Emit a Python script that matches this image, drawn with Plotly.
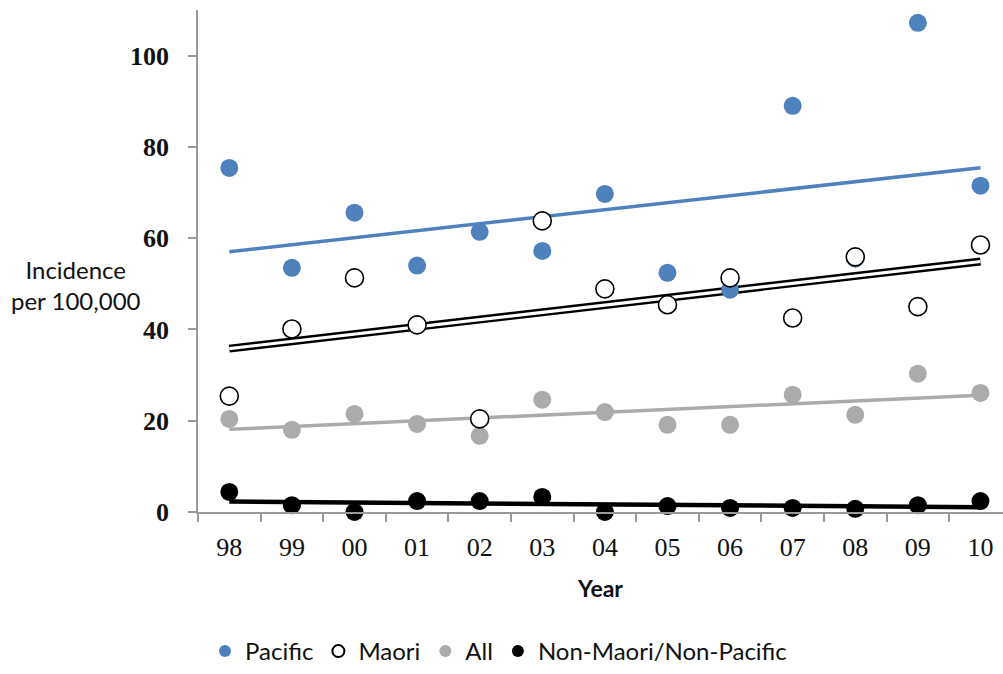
import numpy as np
import plotly.graph_objects as go

# Years (two-digit labels) and incidence per 100,000 for each group
years = ["98", "99", "00", "01", "02", "03", "04", "05", "06", "07", "08", "09", "10"]
pacific = [75.4, 53.5, 65.6, 54.0, 61.4, 57.2, 69.7, 52.4, 48.7, 89.0, 55.5, 107.2, 71.5]
maori = [25.4, 40.1, 51.3, 41.0, 20.4, 63.8, 48.9, 45.4, 51.3, 42.5, 55.9, 45.0, 58.5]
all_groups = [20.4, 18.0, 21.5, 19.3, 16.7, 24.6, 21.9, 19.1, 19.1, 25.7, 21.3, 30.3, 26.1]
non_maori_pacific = [4.4, 1.5, 0.0, 2.4, 2.4, 3.3, 0.0, 1.3, 0.9, 0.9, 0.7, 1.5, 2.4]

BLUE = "#4F81BD"
GREY = "#ABABAB"
BLACK = "#000000"

idx = np.arange(len(years))


def trend(values):
    slope, intercept = np.polyfit(idx, np.asarray(values, dtype=float), 1)
    return list(slope * idx + intercept)


fig = go.Figure()

# Linear trend lines (drawn beneath the markers)
fig.add_trace(go.Scatter(x=years, y=trend(pacific), mode="lines",
                         line=dict(color=BLUE, width=3.5), showlegend=False, hoverinfo="skip"))
fig.add_trace(go.Scatter(x=years, y=trend(maori), mode="lines",
                         line=dict(color=BLACK, width=8), showlegend=False, hoverinfo="skip"))
fig.add_trace(go.Scatter(x=years, y=trend(maori), mode="lines",
                         line=dict(color="white", width=3.2), showlegend=False, hoverinfo="skip"))
fig.add_trace(go.Scatter(x=years, y=trend(all_groups), mode="lines",
                         line=dict(color=GREY, width=3.5), showlegend=False, hoverinfo="skip"))
fig.add_trace(go.Scatter(x=years, y=trend(non_maori_pacific), mode="lines",
                         line=dict(color=BLACK, width=4.5), showlegend=False, hoverinfo="skip"))

MS = 18
fig.add_trace(go.Scatter(x=years, y=all_groups, mode="markers", name="All", legendrank=3,
                         marker=dict(size=MS, color=GREY, line=dict(width=0)), cliponaxis=False))
fig.add_trace(go.Scatter(x=years, y=pacific, mode="markers", name="Pacific", legendrank=1,
                         marker=dict(size=MS, color=BLUE, line=dict(width=0)), cliponaxis=False))
fig.add_trace(go.Scatter(x=years, y=maori, mode="markers", name="Maori", legendrank=2,
                         marker=dict(size=MS, color="white", line=dict(width=1.6, color=BLACK)),
                         cliponaxis=False))
fig.add_trace(go.Scatter(x=years, y=non_maori_pacific, mode="markers", name="Non-Maori/Non-Pacific",
                         legendrank=4, marker=dict(size=MS, color=BLACK, line=dict(width=0)),
                         cliponaxis=False))

fig.update_layout(
    width=1003, height=674,
    margin=dict(l=198, r=0, t=10, b=162),
    paper_bgcolor="white", plot_bgcolor="white",
    showlegend=True,
    legend=dict(orientation="h", xref="container", yref="container",
                x=0.497, xanchor="center", y=0.0, yanchor="bottom",
                font=dict(family="Lato", size=24, color="#111111"),
                itemsizing="constant", traceorder="normal"),
    xaxis=dict(type="category", range=[-0.5, 12.36],
               showgrid=False, zeroline=False,
               showline=True, linecolor="#9A9A9A", linewidth=1.5,
               ticks="outside", tickson="boundaries", ticklen=8, tickcolor="#9A9A9A", tickwidth=1.5,
               tickfont=dict(family="Liberation Serif", size=26, color="#111111"),
               ticklabelstandoff=11,
               title=dict(text="<b>Year</b>", font=dict(family="Lato", size=23, color="#111111"),
                          standoff=20)),
    yaxis=dict(range=[0, 110], tickvals=[0, 20, 40, 60, 80, 100],
               showgrid=False, zeroline=False,
               showline=True, linecolor="#9A9A9A", linewidth=1.5,
               ticks="outside", ticklen=8, tickcolor="#9A9A9A", tickwidth=1.5,
               tickfont=dict(family="Liberation Serif", size=26, color="#111111", weight="bold"),
               ticklabelstandoff=14),
    annotations=[dict(text="Incidence<br>per 100,000", xref="paper", yref="paper",
                      x=-0.152, y=0.452, xanchor="center", yanchor="middle", showarrow=False,
                      align="center",
                      font=dict(family="Lato", size=24, color="#111111"))],
)

fig.write_html("out.html")
